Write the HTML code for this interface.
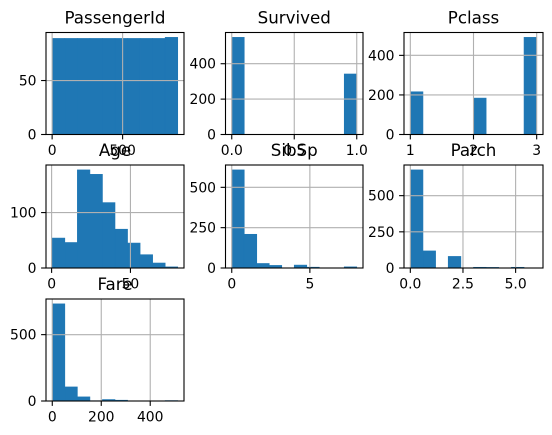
<!DOCTYPE html>
<html><head><meta charset="utf-8"><style>
body{margin:0;background:#fff}
svg{display:block;font-family:"DejaVu Sans","Liberation Sans",sans-serif}
</style></head><body>
<svg id="fig" width="552" height="435"></svg>
<script>
const titles=["PassengerId","Survived","Pclass","Age","SibSp","Parch","Fare"];
const mins=[1,0,1,0.42,0,0,0];
const maxs=[891,1,3,80,8,6,512.33];
const countsPassengerId=[89,89,89,89,89,89,89,89,89,90];
const countsSurvived=[549,0,0,0,0,0,0,0,0,342];
const countsPclass=[216,0,0,0,0,184,0,0,0,491];
const countsAge=[54,46,177,169,118,70,45,24,9,2];
const countsSibSp=[608,209,28,16,0,18,5,0,0,7];
const countsParch=[678,118,0,80,0,5,4,0,5,1];
const countsFare=[732,106,31,2,11,6,0,0,0,3];
const xTicks=[[0,500],[0,0.5,1],[1,2,3],[0,50],[0,5],[0,2.5,5],[0,200,400]];
const xTickLabels=[["0","500"],["0.0","0.5","1.0"],["1","2","3"],["0","50"],["0","5"],["0.0","2.5","5.0"],["0","200","400"]];
const yTicks=[[0,50],[0,200,400],[0,200,400],[0,100],[0,250,500],[0,250,500],[0,500]];
const allCounts=[countsPassengerId,countsSurvived,countsPclass,countsAge,countsSibSp,countsParch,countsFare];
const cols=[[46,184],[225.5,363],[404,543]];
const rows=[[32.5,134.5],[165,268],[299,401]];
const NS="http://www.w3.org/2000/svg";
const svg=document.getElementById('fig');
function mk(tag,attrs,parent){const e=document.createElementNS(NS,tag);for(const k in attrs)e.setAttribute(k,attrs[k]);parent.appendChild(e);return e;}
const labelLayer=[];
allCounts.forEach((counts,i)=>{
  const [x0,x1]=cols[i%3],[y0,y1]=rows[Math.floor(i/3)];
  const g=mk('g',{},svg);
  
  
  const lo=mins[i],hi=maxs[i],span=hi-lo;
  const xl=lo-0.05*span,xh=hi+0.05*span;
  const ymax=Math.max(...counts)*1.05;
  const sx=v=>x0+(v-xl)/(xh-xl)*(x1-x0);
  const sy=v=>y1-v/ymax*(y1-y0);
  const w=span/counts.length;
  counts.forEach((c,j)=>{
    if(c<=0)return;
    const r=mk('rect',{x:sx(lo+j*w),y:sy(c),width:sx(lo+(j+1)*w)-sx(lo+j*w),height:y1-sy(c),fill:'#1f77b4',stroke:'#1f77b4','stroke-width':0.6},g);
    
    
  });
  xTicks[i].forEach((t,k)=>{
    const x=sx(t);
    mk('line',{x1:x,x2:x,y1:y0,y2:y1,stroke:'#b0b0b0','stroke-width':1.1},g);
    mk('line',{x1:x,x2:x,y1:y1,y2:y1+4.9,stroke:'#000','stroke-width':1.1},g);
    labelLayer.push(['x',x,y1+20.5,xTickLabels[i][k]]);
  });
  yTicks[i].forEach(t=>{
    const y=sy(t);
    mk('line',{x1:x0,x2:x1,y1:y,y2:y,stroke:'#b0b0b0','stroke-width':1.1},g);
    mk('line',{x1:x0-4.9,x2:x0,y1:y,y2:y,stroke:'#000','stroke-width':1.1},g);
    const tx=mk('text',{x:x0-9.5,y:y+5,'font-size':13.9,'text-anchor':'end',fill:'#000'},g);
    tx.textContent=String(t);
    
    
  });
  mk('rect',{x:x0,y:y0,width:x1-x0,height:y1-y0,fill:'none',stroke:'#000','stroke-width':1.1},g);
  const tt=mk('text',{x:(x0+x1)/2,y:y0-9,'font-size':16.7,'text-anchor':'middle',fill:'#000'},g);
  tt.textContent=titles[i];
  
  
});
labelLayer.forEach(l=>{
  const tx=mk('text',{x:l[1],y:l[2],'font-size':13.9,'text-anchor':'middle',fill:'#000'},svg);
  tx.textContent=l[3];
  
  
});
</script>
</body></html>
